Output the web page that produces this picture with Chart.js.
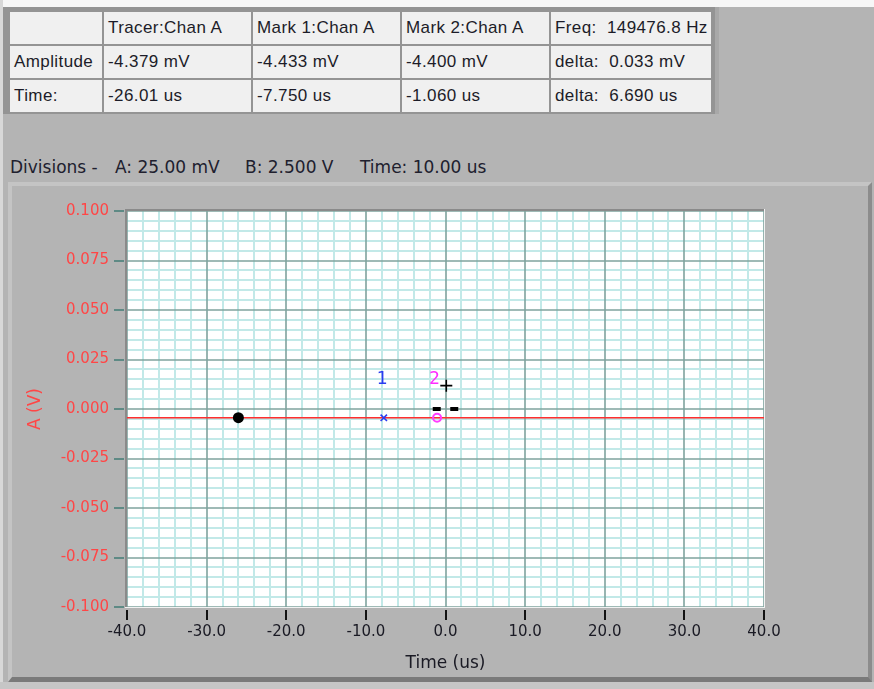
<!DOCTYPE html>
<html><head><meta charset="utf-8">
<script src="https://cdn.jsdelivr.net/npm/chart.js@4.4.1/dist/chart.umd.min.js"></script>
<style>
html,body{margin:0;padding:0;}
body{width:874px;height:689px;position:relative;overflow:hidden;background:#b4b4b4;font-family:"Liberation Sans",Arial,sans-serif;}
.abs{position:absolute;box-sizing:border-box;}
.cell{position:absolute;box-sizing:border-box;background:#f0f0f0;color:#1c1c28;font-size:17px;letter-spacing:0.4px;white-space:pre;overflow:hidden;padding-left:4px;display:flex;align-items:center;}
.divtxt{position:absolute;top:155px;font-family:"DejaVu Sans",sans-serif;font-size:17px;color:#20202e;white-space:pre;line-height:24px;}
</style></head><body>
<div class="abs" style="left:0;top:0;width:874px;height:7px;background:#f7f7f7"></div>
<div class="abs" style="left:0;top:0;width:3px;height:689px;background:#d8d8d8"></div>
<div class="abs" style="left:3px;top:7px;width:716px;height:107px;background:#949494;border-right:4px solid #a8a8a8"></div>
<div id="tbl"></div>
<div id="divs"></div>
<div class="abs" style="left:8px;top:182px;width:864px;height:500px;border-top:4px solid #c4c4c4;border-left:4px solid #c4c4c4;border-right:4px solid #8c8c8c;border-bottom:5px solid #7a7a7a"></div>
<div class="abs" style="left:0;top:682px;width:874px;height:7px;background:#c6c6c6"></div>
<canvas id="c" width="874" height="689" style="position:absolute;left:0;top:0"></canvas>
<script>
// ---- readout table text ----
const headerRow = ['', 'Tracer:Chan A', 'Mark 1:Chan A', 'Mark 2:Chan A', 'Freq:  149476.8 Hz'];
const amplitudeRow = ['Amplitude', '-4.379 mV', '-4.433 mV', '-4.400 mV', 'delta:  0.033 mV'];
const timeRow = ['Time:', '-26.01 us', '-7.750 us', '-1.060 us', 'delta:  6.690 us'];
const divisionTexts = ['Divisions -', 'A: 25.00 mV', 'B: 2.500 V', 'Time: 10.00 us'];

// ---- chart data ----
const traceTime = [-40, 40];
const traceAmp = [-0.0044, -0.0044];
const tracerTime = [-26.01];
const tracerAmp = [-0.004379];
const mark1Time = [-7.75];
const mark1Amp = [-0.004433];
const mark2Time = [-1.06];
const mark2Amp = [-0.0044];
const cursorTime = [0.1];
const cursorAmp = [0.0118];
const triggerTime = [-1.1, 1.1];
const triggerAmp = [0, 0];
const markLabels = ['1', '2'];
const markLabelTime = [-8.0, -1.4];
const markLabelAmp = [0.0148, 0.0148];
const xMajorStep = 10, xMinorStep = 2;
const yMajorStep = 0.025, yMinorStep = 0.005;

// layout of table (positions only)
const colX = [10, 104, 253, 402, 551];
const colW = [92, 147, 147, 147, 160];
const rowY = [12, 46, 80];
const rowH = 32;
const tbl = document.getElementById('tbl');
[headerRow, amplitudeRow, timeRow].forEach((row, r) => {
  row.forEach((txt, c) => {
    const d = document.createElement('div');
    d.className = 'cell';
    d.style.left = colX[c] + 'px'; d.style.top = rowY[r] + 'px';
    d.style.width = colW[c] + 'px'; d.style.height = rowH + 'px';
    d.textContent = txt;
    tbl.appendChild(d);
  });
});
const divX = [10, 115, 245, 360];
const divs = document.getElementById('divs');
divisionTexts.forEach((t, i) => {
  const d = document.createElement('div');
  d.className = 'divtxt'; d.style.left = divX[i] + 'px'; d.textContent = t;
  divs.appendChild(d);
});

function isMajor(v, step) { return Math.abs(Math.round(v / step) * step - v) < step * 1e-6; }
function pts(xs, ys) { return xs.map((x, i) => ({x: x, y: ys[i]})); }

const scopePlugin = {
  id: 'scope',
  beforeDatasetsDraw(chart) {
    const {ctx, chartArea: a} = chart;
    const xs = chart.scales.x, ys = chart.scales.y;
    ctx.save();
    ctx.fillStyle = '#ffffff';
    ctx.fillRect(a.left, a.top, a.right - a.left, a.bottom - a.top);
    const vline = (p) => { ctx.beginPath(); ctx.moveTo(p, a.top); ctx.lineTo(p, a.bottom); ctx.stroke(); };
    const hline = (p) => { ctx.beginPath(); ctx.moveTo(a.left, p); ctx.lineTo(a.right, p); ctx.stroke(); };
    ctx.lineWidth = 2; ctx.strokeStyle = '#c2e9e8';
    xs.ticks.forEach(t => { if (!isMajor(t.value, xMajorStep)) vline(Math.round(xs.getPixelForValue(t.value))); });
    ys.ticks.forEach(t => { if (!isMajor(t.value, yMajorStep)) hline(Math.round(ys.getPixelForValue(t.value))); });
    ctx.lineWidth = 1.6; ctx.strokeStyle = '#7fa39e';
    xs.ticks.forEach(t => { if (isMajor(t.value, xMajorStep)) vline(Math.round(xs.getPixelForValue(t.value))); });
    ys.ticks.forEach(t => { if (isMajor(t.value, yMajorStep)) hline(Math.round(ys.getPixelForValue(t.value))); });
    // frame
    ctx.fillStyle = '#8a8a8a';
    ctx.fillRect(a.left - 2, a.top - 2, a.right - a.left + 2, 2);
    ctx.fillRect(a.left - 2, a.top - 2, 2, a.bottom - a.top + 2);
    ctx.fillStyle = '#f2f2f2';
    ctx.fillRect(a.left - 2, a.bottom, a.right - a.left + 3, 1);
    ctx.fillRect(a.right, a.top - 2, 1, a.bottom - a.top + 3);
    // tick marks
    ctx.lineWidth = 2; ctx.strokeStyle = '#5e8a85';
    ys.ticks.forEach(t => { if (isMajor(t.value, yMajorStep)) { const p = Math.round(ys.getPixelForValue(t.value)); ctx.beginPath(); ctx.moveTo(a.left - 13, p); ctx.lineTo(a.left - 3, p); ctx.stroke(); } });
    ctx.strokeStyle = '#111';
    xs.ticks.forEach(t => { if (isMajor(t.value, xMajorStep)) { const p = Math.round(xs.getPixelForValue(t.value)); ctx.beginPath(); ctx.moveTo(p, a.bottom + 3); ctx.lineTo(p, a.bottom + 13); ctx.stroke(); } });
    ctx.restore();
  },
  afterDatasetsDraw(chart) {
    const {ctx} = chart;
    const xs = chart.scales.x, ys = chart.scales.y;
    const cols = ['#2a3cf0', '#ff2cff'];
    ctx.save();
    ctx.font = '18px "DejaVu Sans Mono", monospace';
    ctx.textAlign = 'center'; ctx.textBaseline = 'middle';
    markLabels.forEach((t, i) => {
      ctx.fillStyle = cols[i];
      ctx.fillText(t, xs.getPixelForValue(markLabelTime[i]), ys.getPixelForValue(markLabelAmp[i]));
    });
    ctx.restore();
  }
};

new Chart(document.getElementById('c'), {
  type: 'scatter',
  data: {
    datasets: [
      {label: 'trace', type: 'line', data: pts(traceTime, traceAmp), borderColor: '#ff2e2e', borderWidth: 1.6, pointRadius: 0, fill: false, order: 5},
      {label: 'trigger', data: pts(triggerTime, triggerAmp), pointStyle: 'line', pointRadius: 4, borderWidth: 4, borderColor: '#000', backgroundColor: '#000', order: 4},
      {label: 'tracer', data: pts(tracerTime, tracerAmp), pointStyle: 'circle', pointRadius: 5.5, borderWidth: 0, backgroundColor: '#000', order: 3},
      {label: 'mark1', data: pts(mark1Time, mark1Amp), pointStyle: 'crossRot', pointRadius: 4.5, borderWidth: 1.6, borderColor: '#2a3cf0', order: 2},
      {label: 'mark2', data: pts(mark2Time, mark2Amp), pointStyle: 'circle', pointRadius: 4, borderWidth: 2, borderColor: '#ff3cff', backgroundColor: 'rgba(0,0,0,0)', order: 1},
      {label: 'cursor', data: pts(cursorTime, cursorAmp), pointStyle: 'cross', pointRadius: 6, borderWidth: 1.6, borderColor: '#000', order: 0}
    ]
  },
  options: {
    responsive: false,
    animation: false,
    events: [],
    layout: {padding: {top: 211, right: 110, left: 0, bottom: 0}},
    plugins: {legend: {display: false}, tooltip: {enabled: false}},
    scales: {
      x: {
        type: 'linear', min: -40, max: 40,
        afterFit(s) { s.height = 82; },
        grid: {display: false, drawTicks: false},
        border: {display: false},
        ticks: {
          stepSize: xMinorStep, autoSkip: false, maxTicksLimit: 200, maxRotation: 0, padding: 16,
          color: '#1a1a24', font: {family: '"DejaVu Sans", sans-serif', size: 15},
          callback(v) { if (!isMajor(v, xMajorStep)) return ''; const r = Math.round(v / xMajorStep) * xMajorStep; return (r === 0 ? 0 : r).toFixed(1); }
        },
        title: {display: true, text: 'Time (us)', color: '#1a1a24', font: {family: '"DejaVu Sans", sans-serif', size: 17}, padding: {top: 0, bottom: 15}}
      },
      y: {
        type: 'linear', min: -0.1, max: 0.1,
        afterFit(s) { s.width = 127; },
        grid: {display: false, drawTicks: false},
        border: {display: false},
        ticks: {
          stepSize: yMinorStep, autoSkip: false, maxTicksLimit: 200, padding: 18,
          color: '#ff4646', font: {family: '"DejaVu Sans", sans-serif', size: 15},
          callback(v) { if (!isMajor(v, yMajorStep)) return ''; const r = Math.round(v / yMajorStep) * yMajorStep; return (Math.abs(r) < 1e-9 ? 0 : r).toFixed(3); }
        },
        title: {display: true, text: 'A (V)', color: '#ff4646', font: {family: '"DejaVu Sans", sans-serif', size: 17}, padding: {top: 25, bottom: 0}}
      }
    }
  },
  plugins: [scopePlugin]
});
</script>
</body></html>
